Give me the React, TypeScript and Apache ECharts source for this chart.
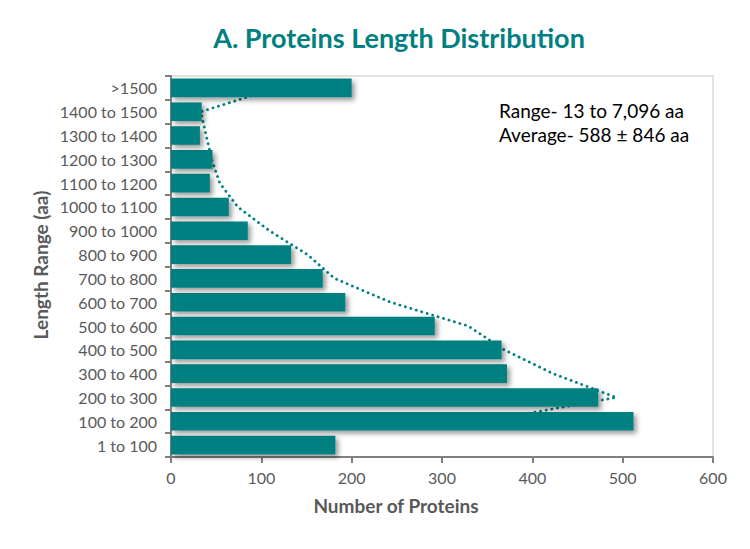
import React, { useEffect, useRef } from "react";
import * as echarts from "echarts";

const categories = [
  "1 to 100", "100 to 200", "200 to 300", "300 to 400", "400 to 500",
  "500 to 600", "600 to 700", "700 to 800", "800 to 900", "900 to 1000",
  "1000 to 1100", "1100 to 1200", "1200 to 1300", "1300 to 1400",
  "1400 to 1500", ">1500",
];
const proteinCounts = [182, 512, 473, 372, 366, 292, 193, 168, 133, 85, 64, 43, 46, 32, 34, 200];
// 2-period moving average trendline
const trendValues = [null, 347, 493, 423, 369, 329, 243, 181, 151, 109, 74, 54, 45, 39, 33, 117];
const xTicks = [0, 100, 200, 300, 400, 500, 600];
const titleText = "A. Proteins Length Distribution";
const noteLines = ["Range- 13 to 7,096 aa", "Average- 588 ± 846 aa"];

const TEAL = "#008080";
const GRAY = "#595959";
const FONT = "Lato, 'Noto Sans', sans-serif";

export default function App() {
  const ref = useRef<HTMLDivElement>(null);
  useEffect(() => {
    if (!ref.current) return;
    const chart = echarts.init(ref.current, null, { renderer: "svg" });
    chart.setOption({
      animation: false,
      backgroundColor: "#ffffff",
      textStyle: { fontFamily: FONT },
      grid: {
        left: 171, right: 37, top: 76, bottom: 92,
        show: true, borderColor: "#d9d9d9", borderWidth: 1.5,
      },
      xAxis: {
        type: "value",
        min: xTicks[0],
        max: xTicks[xTicks.length - 1],
        interval: 100,
        splitLine: { show: false },
        axisLine: { show: true, lineStyle: { color: "#7f7f7f", width: 2 } },
        axisTick: { show: true, length: 6, lineStyle: { color: "#7f7f7f", width: 2 } },
        axisLabel: { color: GRAY, fontSize: 16, fontFamily: FONT, margin: 12 },
      },
      yAxis: {
        type: "category",
        data: categories,
        axisLine: { show: true, lineStyle: { color: "#7f7f7f", width: 2 } },
        axisTick: { show: true, length: 6, alignWithLabel: false, lineStyle: { color: "#7f7f7f", width: 2 } },
        axisLabel: { color: GRAY, fontSize: 16, fontFamily: FONT, margin: 14 },
      },
      graphic: [
        {
          type: "text", x: 399, y: 37,
          style: { text: titleText, fill: TEAL, font: `bold 27px ${FONT}`, align: "center", verticalAlign: "middle" },
        },
        {
          type: "text", x: 396, y: 505,
          style: { text: "Number of Proteins", fill: GRAY, font: `bold 19px ${FONT}`, align: "center", verticalAlign: "middle" },
        },
        {
          type: "text", x: 40, y: 265, rotation: Math.PI / 2,
          style: { text: "Length Range (aa)", fill: GRAY, font: `bold 19px ${FONT}`, align: "center", verticalAlign: "middle" },
        },
        {
          type: "text", x: 499, y: 110,
          style: { text: noteLines[0], fill: "#000000", font: `19px ${FONT}`, align: "left", verticalAlign: "middle" },
        },
        {
          type: "text", x: 499, y: 134,
          style: { text: noteLines[1], fill: "#000000", font: `19px ${FONT}`, align: "left", verticalAlign: "middle" },
        },
      ],
      series: [
        {
          type: "line",
          data: trendValues,
          z: 1,
          symbol: "none",
          connectNulls: false,
          lineStyle: { color: TEAL, width: 2.8, type: [0.1, 5.6], cap: "round" },
        },
        {
          type: "bar",
          data: proteinCounts,
          z: 2,
          barCategoryGap: "22%",
          itemStyle: {
            color: TEAL,
            shadowColor: "rgba(0,0,0,0.4)",
            shadowBlur: 5,
            shadowOffsetX: 3,
            shadowOffsetY: 3,
          },
        },
      ],
    });
    return () => chart.dispose();
  }, []);
  return (
    <div
      ref={ref}
      style={{ position: "fixed", left: 0, top: 0, width: 750, height: 549, background: "#fff" }}
    />
  );
}
